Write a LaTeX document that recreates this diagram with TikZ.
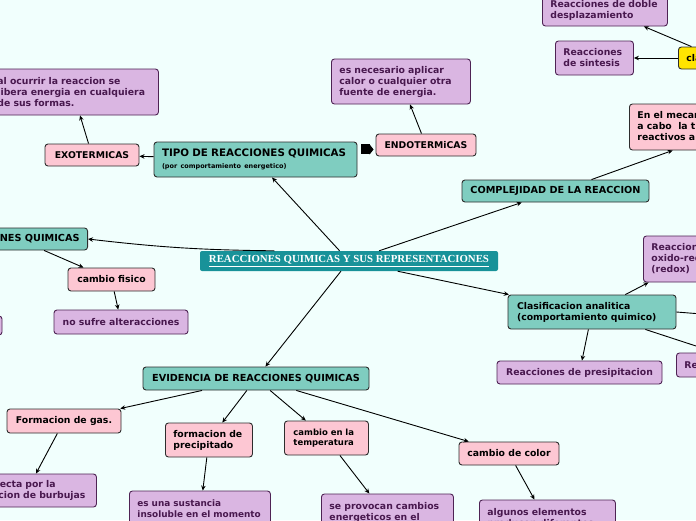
\documentclass[tikz,border=0pt]{standalone}
\usepackage{fontspec}
\setmainfont{DejaVu Sans}
\newfontfamily\ctrfont{Liberation Serif}
\usetikzlibrary{arrows.meta,calc}
\definecolor{bgc}{RGB}{241,255,253}
\definecolor{tealc}{RGB}{127,205,192}
\definecolor{ctrc}{RGB}{24,146,153}
\definecolor{pinkc}{RGB}{253,199,211}
\definecolor{purpc}{RGB}{218,182,226}
\definecolor{purpb}{RGB}{78,35,84}
\definecolor{purpt}{RGB}{72,24,78}
\definecolor{bordc}{RGB}{45,45,45}
\definecolor{yelc}{RGB}{255,228,0}
\begin{document}
\begin{tikzpicture}[x=1pt,y=-1pt,
  box/.style={draw=bordc, line width=0.9pt, rounded corners=3pt,
    font=\bfseries\fontsize{9.3}{11}\selectfont, inner xsep=8pt, inner ysep=2pt, align=center},
  tealbox/.style={box, fill=tealc, font=\bfseries\fontsize{9.7}{11.5}\selectfont},
  pinkbox/.style={box, fill=pinkc},
  purpbox/.style={box, fill=purpc, draw=purpb, text=purpt},
  yelbox/.style={box, fill=yelc},
  lft/.style={anchor=west, align=left},
  ctrbox/.style={fill=ctrc, rounded corners=2pt, text=white,
    font=\ctrfont\bfseries\fontsize{10.8}{12}\selectfont},
  conn/.style={line width=0.9pt, -{Stealth[length=5pt,width=4.5pt]}},
]
\useasboundingbox (0,0) rectangle (696,520);
\clip (0,0) rectangle (696,520);
\fill[bgc] (0,0) rectangle (696,520);

% nodes
\node[ctrbox, minimum width=298pt, minimum height=20pt] (center) at (349,261)
  {\underline{REACCIONES QUIMICAS Y SUS REPRESENTACIONES}};
\node[tealbox, text width=187pt, align=left, minimum height=35pt] (tipo) at (255.5,159.5)
  {{\fontsize{10.3}{12}\selectfont TIPO DE REACCIONES QUIMICAS}\\[1pt]{\fontsize{6.5}{8}\selectfont (por comportamiento energetico)}};
\node[pinkbox, minimum width=94pt, minimum height=22pt] (exo) at (92,155) {EXOTERMICAS};
\node[purpbox, lft, inner xsep=10pt, text width=151pt, minimum height=46pt] (pexo) at (-13,92)
  {al ocurrir la reaccion se\\libera energia en cualquiera\\de sus formas.};
\node[pinkbox, minimum width=100pt, minimum height=22pt] (endo) at (426,145) {ENDOTERMiCAS};
\node[purpbox, lft, text width=123pt, minimum height=45pt] (pendo) at (331,81.5)
  {es necesario aplicar\\calor o cualquier otra\\fuente de energia.};
\node[purpbox, lft, text width=109pt, minimum height=32pt] (doble) at (542,10)
  {Reacciones de doble\\desplazamiento};
\node[purpbox, lft, text width=62pt, minimum height=34pt] (sintesis) at (555,58)
  {Reacciones\\de sintesis};
\node[yelbox, lft, minimum height=22pt] (yellow) at (678,58) {clasificacion};
\node[pinkbox, lft, minimum height=46pt] (mecan) at (629,127)
  {En el mecanismo que se lleva\\a cabo\ \ la transformacion de\\reactivos a productos};
\node[tealbox, minimum width=187pt, minimum height=22pt] (complej) at (555.5,191) {COMPLEJIDAD DE LA REACCION};
\node[tealbox, anchor=east, minimum height=22pt] (nesq) at (88,239) {TRANSFORMACIONES QUIMICAS};
\node[pinkbox, minimum width=87pt, minimum height=23pt] (fisico) at (111.5,279.5) {cambio fisico};
\node[purpbox, minimum width=134pt, minimum height=24pt] (nosufre) at (121,322) {no sufre alteracciones};
\node[purpbox, minimum width=62pt, minimum height=19pt] (sliver) at (-29,325.5) {};
\node[tealbox, text width=150pt, inner xsep=9pt, align=left, minimum height=34pt, font=\bfseries\fontsize{9.3}{11}\selectfont] (clasif) at (592,312)
  {Clasificacion analitica\\(comportamiento quimico)};
\node[purpbox, lft, minimum height=46pt] (redox) at (643,259)
  {Reacciones de\\oxido-reduccion\\(redox)};
\node[purpbox, lft, minimum height=24pt] (reright) at (676,365) {Reacciones de combustion};
\node[purpbox, minimum width=165pt, minimum height=23pt] (presip) at (579.5,372.5) {Reacciones de presipitacion};
\node[tealbox, minimum width=226pt, minimum height=23pt] (evid) at (256,378.5) {EVIDENCIA DE REACCIONES QUIMICAS};
\node[pinkbox, minimum width=114pt, minimum height=24pt] (gas) at (64,421) {Formacion de gas.};
\node[purpbox, lft, inner xsep=10pt, text width=119pt, minimum height=33pt] (pgas) at (-43,490.5)
  {se detecta por la\\formacion de burbujas};
\node[pinkbox, lft, text width=71pt, minimum height=34pt] (precip) at (165,440)
  {formacion de\\precipitado};
\node[purpbox, lft, text width=125pt, minimum height=46pt, font=\bfseries\fontsize{8.9}{11}\selectfont] (pprecip) at (129,514)
  {es una sustancia\\insoluble en el momento\\de la reaccion};
\node[pinkbox, lft, inner xsep=9pt, text width=66pt, minimum height=34pt, font=\bfseries\fontsize{8.5}{10.5}\selectfont] (temp) at (284,438)
  {cambio en la\\temperatura};
\node[purpbox, lft, text width=116pt, minimum height=46pt] (ptemp) at (321,517)
  {se provocan cambios\\energeticos en el\\sistema};
\node[pinkbox, minimum width=100pt, minimum height=23pt] (color) at (509,453.5) {cambio de color};
\node[purpbox, lft, text width=120pt, minimum height=46pt] (pcolor) at (479,523)
  {algunos elementos\\producen diferentes\\colores};
\coordinate (offR) at (740,317);

% connectors
\draw[conn] (center) -- (tipo);
\draw[conn] (tipo) -- (exo);
\draw[conn] (exo) -- (pexo);
\coordinate (tb) at ($(tipo.north east)!0.22!(tipo.south east)$);
\draw[line width=10pt, -{Triangle[length=4pt,width=10pt]}] ([xshift=4pt]tb) -- ([xshift=-2pt]tb -| endo.west);
\draw[conn] (endo) -- (pendo);
\draw[conn] (center) -- (complej);
\draw[conn] ([xshift=36pt]complej.north) -- ([xshift=-42pt]mecan.south);
\draw[conn] (yellow) -- (sintesis);
\draw[conn] (yellow) -- (doble);
\draw[conn] ($(center.north west)!0.25!(center.north east)$) to[bend left=3] (nesq.east);
\draw[conn] ([xshift=52pt]nesq.south) -- ([xshift=-28pt]fisico.north);
\draw[conn] (fisico) -- (nosufre);
\draw[conn] (center) -- (clasif);
\draw[conn] (clasif) -- (redox);
\draw[line width=0.9pt] (clasif.east) -- (offR);
\draw[conn] (clasif) -- (reright);
\draw[conn] (clasif) -- (presip);
\draw[conn] (center) -- (evid);
\draw[conn] (evid) -- (gas);
\draw[conn] (gas) -- (pgas);
\draw[conn] (evid) -- (precip);
\draw[conn] (precip) -- (pprecip);
\draw[conn] (evid) -- (temp);
\draw[conn] (temp) -- (ptemp);
\draw[conn] (evid) -- (color);
\draw[conn] (color) -- (pcolor);
\end{tikzpicture}
\end{document}
